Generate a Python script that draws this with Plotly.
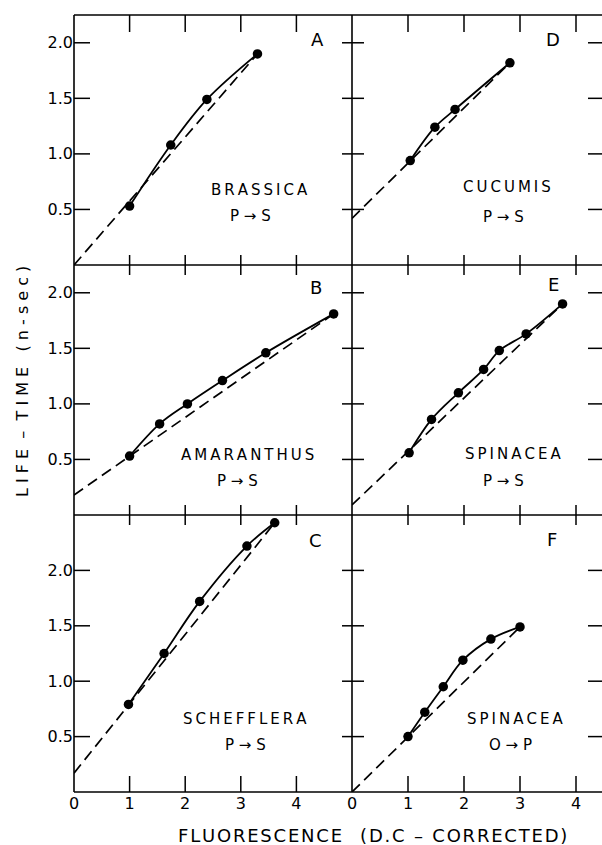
import plotly.graph_objects as go

W, H = 602, 845
ML, MR, MT, MB = 74, 0, 15, 53
PW, PH = W - ML - MR, H - MT - MB

# ---------------- data ----------------
panel_letters = ["A", "D", "B", "E", "C", "F"]
species = ["BRASSICA", "CUCUMIS", "AMARANTHUS", "SPINACEA", "SCHEFFLERA", "SPINACEA"]
transitions = ["P → S", "P → S", "P → S", "P → S", "P → S", "O → P"]

a_x = [1.00, 1.74, 2.39, 3.30]
a_y = [0.53, 1.08, 1.49, 1.90]
a_int = 0.0

d_x = [1.04, 1.48, 1.84, 2.82]
d_y = [0.94, 1.24, 1.40, 1.82]
d_int = 0.42

b_x = [1.00, 1.54, 2.04, 2.67, 3.45, 4.67]
b_y = [0.53, 0.82, 1.00, 1.21, 1.46, 1.81]
b_int = 0.18

e_x = [1.02, 1.42, 1.90, 2.35, 2.63, 3.11, 3.76]
e_y = [0.56, 0.86, 1.10, 1.31, 1.48, 1.63, 1.90]
e_int = 0.09

c_x = [0.98, 1.62, 2.26, 3.11, 3.61]
c_y = [0.79, 1.25, 1.72, 2.22, 2.43]
c_int = 0.17

f_x = [1.00, 1.30, 1.63, 1.98, 2.48, 3.00]
f_y = [0.50, 0.72, 0.95, 1.19, 1.38, 1.49]
f_int = 0.0

x_ticks_inner = [1, 2, 3, 4]
x_ticks_bottom = [0, 1, 2, 3, 4]
x_tick_labels = ["0", "1", "2", "3", "4"]
y_ticks = [0.5, 1.0, 1.5, 2.0]
y_tick_labels = ["0.5", "1.0", "1.5", "2.0"]

series = [(a_x, a_y, a_int), (d_x, d_y, d_int), (b_x, b_y, b_int),
          (e_x, e_y, e_int), (c_x, c_y, c_int), (f_x, f_y, f_int)]

# ---------------- layout geometry ----------------
def px_x(p):
    return (p - ML) / PW

def px_y(p):
    return (H - MB - p) / PH

x_mid = 352
x_edges = [ML, x_mid, W]
x_dom = [[0, px_x(x_mid)], [px_x(x_mid), 1]]
x_rng = [[0, 5.0], [0, (W - x_mid) / 56.0]]
row_edges = [15, 265, 515, 792]
y_dom = [[px_y(row_edges[i + 1]), px_y(row_edges[i])] for i in range(3)]
y_rng = [[0, 2.25], [0, 2.25], [0, 2.5]]

FONT = "DejaVu Sans"
fig = go.Figure()
layout = dict(
    width=W, height=H, margin=dict(l=ML, r=MR, t=MT, b=MB),
    paper_bgcolor="white", plot_bgcolor="white", showlegend=False,
    font=dict(family=FONT, color="black", size=16),
)

shapes = []
TW = 1.5   # tick width
LW = 1.6   # frame line width

def xtick(xref, v, top_px, bot_px):
    shapes.append(dict(type="line", xref=xref, yref="paper", x0=v, x1=v,
                       y0=px_y(bot_px), y1=px_y(top_px), line=dict(color="black", width=TW)))

def ytick(yref, v, left_px, right_px):
    shapes.append(dict(type="line", xref="paper", yref=yref, x0=px_x(left_px), x1=px_x(right_px),
                       y0=v, y1=v, line=dict(color="black", width=TW)))

for i, (xs, ys, yint) in enumerate(series):
    row, col = i // 2, i % 2
    n = i + 1
    xa = "x" if n == 1 else f"x{n}"
    ya = "y" if n == 1 else f"y{n}"
    fig.add_trace(go.Scatter(x=[0, xs[-1]], y=[yint, ys[-1]], mode="lines",
                             line=dict(color="black", width=1.7, dash="11px,6px"),
                             xaxis=xa, yaxis=ya, hoverinfo="skip"))
    fig.add_trace(go.Scatter(x=xs, y=ys, mode="lines+markers",
                             line=dict(color="black", width=1.8, shape="spline", smoothing=1.0),
                             marker=dict(color="black", size=9.5),
                             xaxis=xa, yaxis=ya))
    xkey = "xaxis" if n == 1 else f"xaxis{n}"
    ykey = "yaxis" if n == 1 else f"yaxis{n}"
    bottom = row == 2
    layout[xkey] = dict(
        domain=x_dom[col], range=x_rng[col], anchor=ya,
        showgrid=False, zeroline=False, showline=False, ticks="",
        tickmode="array", tickvals=x_ticks_bottom, ticktext=x_tick_labels,
        showticklabels=bottom, tickfont=dict(size=16, family=FONT),
        fixedrange=True,
    )
    layout[ykey] = dict(
        domain=y_dom[row], range=y_rng[row], anchor=xa,
        showgrid=False, zeroline=False, showline=False, ticks="",
        tickmode="array", tickvals=y_ticks, ticktext=y_tick_labels,
        showticklabels=(col == 0), tickfont=dict(size=16, family=FONT),
        fixedrange=True,
    )

    # tick marks along the top / bottom edges of this panel
    top, bot = row_edges[row], row_edges[row + 1]
    for v in x_ticks_inner:
        if row == 0:
            xtick(xa, v, top, top + 17)          # top frame: inward
        else:
            xtick(xa, v, top, top + 10)          # lower half of a crossing tick
        if row == 2:
            xtick(xa, v, bot - 16, bot)          # bottom frame: inward
        else:
            xtick(xa, v, bot - 10, bot)          # upper half of a crossing tick
    # tick marks along the left / right edges
    left, right = x_edges[col], x_edges[col + 1]
    for v in y_ticks:
        if col == 0:
            ytick(ya, v, left, left + 16)        # left frame: inward
            ytick(ya, v, right - 10, right)      # left half of middle crossing tick
        else:
            ytick(ya, v, left, left + 12)        # right half of middle crossing tick
            ytick(ya, v, right - 14, right)      # right edge: inward

# frame lines (drawn once, so shared borders are not doubled)
for e in row_edges:
    shapes.append(dict(type="line", xref="paper", yref="paper", x0=0, x1=1,
                       y0=px_y(e), y1=px_y(e), line=dict(color="black", width=LW)))
for e in [ML, x_mid]:
    shapes.append(dict(type="line", xref="paper", yref="paper", x0=px_x(e), x1=px_x(e),
                       y0=0, y1=1, line=dict(color="black", width=LW)))
layout["shapes"] = shapes

# ---------------- annotations ----------------
ann = []
letter_pos = [(317, 39), (553, 39), (316, 287), (553, 284), (315, 540), (552, 539)]
species_pos = [(259, 190), (507, 187), (247, 455), (513, 454), (245, 719), (515, 719)]
trans_pos = [(250, 216), (503, 217), (237, 481), (503, 481), (245, 745), (510, 745)]

def spaced(s, sep):
    return sep.join(list(s))

for i in range(6):
    lx, ly = letter_pos[i]
    ann.append(dict(x=px_x(lx), y=px_y(ly), xref="paper", yref="paper", text=panel_letters[i],
                    showarrow=False, font=dict(size=18, family=FONT), xanchor="center", yanchor="middle"))
    sx, sy = species_pos[i]
    ann.append(dict(x=px_x(sx), y=px_y(sy), xref="paper", yref="paper", text=spaced(species[i], "\u2009"),
                    showarrow=False, font=dict(size=15, family=FONT), xanchor="center", yanchor="middle"))
    tx, ty = trans_pos[i]
    ann.append(dict(x=px_x(tx), y=px_y(ty), xref="paper", yref="paper", text=transitions[i],
                    showarrow=False, font=dict(size=15, family=FONT), xanchor="center", yanchor="middle"))

x_title = spaced("FLUORESCENCE", "\u200a") + "\u2002\u2002" + spaced("(D.C – CORRECTED)", "\u200a")
ann.append(dict(x=px_x(372), y=px_y(835), xref="paper", yref="paper",
                text=x_title, showarrow=False,
                font=dict(size=18, family=FONT), xanchor="center", yanchor="middle"))
ann.append(dict(x=px_x(22), y=px_y(382), xref="paper", yref="paper",
                text="L I F E  –  T I M E   ( n - s e c )", showarrow=False, textangle=-90,
                font=dict(size=16, family=FONT), xanchor="center", yanchor="middle"))

layout["annotations"] = ann
fig.update_layout(**layout)
fig.write_html("out.html", config={"displayModeBar": False},
               post_script="document.body.style.margin='0px';document.body.style.overflow='hidden';")
